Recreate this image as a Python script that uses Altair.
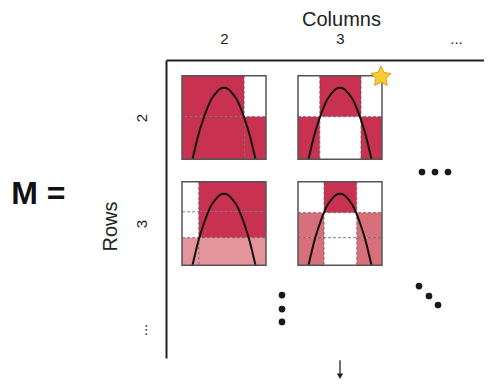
import math
import altair as alt
import pandas as pd

# ---------------- data ----------------
# matrix positions (column / row index); 4 stands for the "..." position
col_ticks = [2, 3, 4]
row_ticks = [2, 3, 4]
tick_text = ["2", "3", "..."]

# panels of the matrix: row, column, split positions (fractions), cell colours
panel_rows = [2, 2, 3, 3]
panel_cols = [2, 3, 2, 3]
panel_vsplits = [[0.74], [0.26, 0.75], [0.20], [0.31, 0.70]]
panel_hsplits = [[0.49], [0.49], [0.36, 0.67], [0.37, 0.67]]
panel_cells = [
    [["R", "W"], ["R", "R"]],
    [["W", "R", "W"], ["R", "W", "R"]],
    [["W", "R"], ["W", "R"], ["L", "L"]],
    [["W", "R", "W"], ["M", "W", "M"], ["M", "W", "M"]],
]
cell_colours = {"R": "#c8314f", "L": "#e4959c", "M": "#d8707b", "W": "#ffffff"}

# curve drawn in each panel (fraction across, fraction down from top)
curve_fx = [0.125, 0.20, 0.25, 0.30, 0.35, 0.40, 0.45, 0.50, 0.55, 0.60, 0.65, 0.70, 0.75, 0.80, 0.875]
curve_fy = [1.00, 0.69, 0.53, 0.39, 0.28, 0.21, 0.16, 0.145, 0.16, 0.21, 0.28, 0.39, 0.53, 0.69, 1.00]

# ellipsis dots (column, row positions)
dots_col = [2.50, 2.50, 2.50, 3.707, 3.819, 3.931, 3.681, 3.767, 3.845]
dots_row = [3.675, 3.807, 3.929, 2.514, 2.514, 2.514, 3.590, 3.684, 3.769]

# star marker on panel (2,3), arrow under column 3
star_col, star_row = [3.353], [1.606]
arrow_col = [3.0]
arrow_row_start, arrow_row_end = [4.29], [4.44]

# "M =" label
label_text = ["M ="]
label_col, label_row = [0.40], [2.72]

# ---------------- layout ----------------
HW = 0.362   # panel half width (column units)
HH = 0.394   # panel half height (row units)
X_DOMAIN = [1.5, 4.2414]
Y_DOMAIN = [1.4575, 4.2689]
FONT = "Liberation Sans"

rects, rules, borders, curves = [], [], [], []
for k in range(len(panel_rows)):
    r, c = panel_rows[k], panel_cols[k]
    xe = [0.0] + panel_vsplits[k] + [1.0]
    ye = [0.0] + panel_hsplits[k] + [1.0]
    x0, y0 = c - HW, r - HH
    for i in range(len(ye) - 1):
        for j in range(len(xe) - 1):
            rects.append(dict(x=x0 + xe[j] * 2 * HW, x2=x0 + xe[j + 1] * 2 * HW,
                              y=y0 + ye[i] * 2 * HH, y2=y0 + ye[i + 1] * 2 * HH,
                              fill=cell_colours[panel_cells[k][i][j]]))
    for v in panel_vsplits[k]:
        rules.append(dict(x=x0 + v * 2 * HW, x2=x0 + v * 2 * HW, y=r - HH, y2=r + HH))
    for h in panel_hsplits[k]:
        rules.append(dict(x=c - HW, x2=c + HW, y=y0 + h * 2 * HH, y2=y0 + h * 2 * HH))
    borders.append(dict(x=c - HW, x2=c + HW, y=r - HH, y2=r + HH))
    for fx, fy in zip(curve_fx, curve_fy):
        curves.append(dict(panel=k, order=fx, x=x0 + fx * 2 * HW, y=y0 + fy * 2 * HH))

rect_df = pd.DataFrame(rects)
rule_df = pd.DataFrame(rules)
border_df = pd.DataFrame(borders)
curve_df = pd.DataFrame(curves)
dots_df = pd.DataFrame(dict(x=dots_col, y=dots_row))
star_df = pd.DataFrame(dict(x=star_col, y=star_row))
arrow_df = pd.DataFrame(dict(x=arrow_col, x2=arrow_col, y=arrow_row_start, y2=arrow_row_end))
head_df = pd.DataFrame(dict(x=arrow_col, y=arrow_row_end))
label_df = pd.DataFrame(dict(x=label_col, y=label_row, t=label_text))

expr_parts = " : ".join(
    [f"datum.value == {v} ? '{t}'" for v, t in zip(col_ticks, tick_text)] + ["''"])

XS = alt.Scale(domain=X_DOMAIN, nice=False, zero=False)
YS = alt.Scale(domain=Y_DOMAIN, nice=False, zero=False, reverse=True)
XA = alt.Axis(orient="top", values=col_ticks, labelExpr=expr_parts, title="Columns",
              ticks=False, tickSize=0, grid=False, domainColor="#222222", domainWidth=2,
              labelFont=FONT, labelFontSize=15, labelColor="#222222", labelPadding=14,
              labelAngle=0, labelAlign="center",
              titleFont=FONT, titleFontSize=20, titleFontWeight="normal", titleColor="#222222",
              titlePadding=2, titleX=175)
YA = alt.Axis(orient="left", values=row_ticks, labelExpr=expr_parts, title="Rows",
              ticks=False, tickSize=0, grid=False, domainColor="#222222", domainWidth=2,
              labelFont=FONT, labelFontSize=15, labelColor="#222222", labelPadding=17,
              labelAngle=-90, labelAlign="center", labelBaseline="bottom",
              titleFont=FONT, titleFontSize=20, titleFontWeight="normal", titleColor="#222222",
              titlePadding=14, titleY=166)


def X(f="x"):
    return alt.X(f"{f}:Q", scale=XS, axis=XA)


def Y(f="y"):
    return alt.Y(f"{f}:Q", scale=YS, axis=YA)


cells = alt.Chart(rect_df).mark_rect(strokeWidth=0).encode(
    x=X(), x2="x2", y=Y(), y2="y2", color=alt.Color("fill:N", scale=None))
splits = alt.Chart(rule_df).mark_rule(color="#555555", strokeWidth=1, strokeDash=[3, 2],
                                      opacity=0.75).encode(x=X(), x2="x2", y=Y(), y2="y2")
curve = alt.Chart(curve_df).mark_line(color="#111111", strokeWidth=2, interpolate="monotone").encode(
    x=X(), y=Y(), detail="panel:N", order="order:Q")
frames = alt.Chart(border_df).mark_rect(fillOpacity=0, stroke="#555555", strokeWidth=1.5).encode(
    x=X(), x2="x2", y=Y(), y2="y2")

pts = []
for i in range(10):
    a = math.radians(-90 + 36 * i)
    rr = 1.0 if i % 2 == 0 else 0.5
    pts.append(f"{rr * math.cos(a):.3f},{rr * math.sin(a) + 0.1:.3f}")
STAR = "M" + "L".join(pts) + "Z"

star = alt.Chart(star_df).mark_point(shape=STAR, size=450, filled=True, fill="#f7cc32",
                                     stroke="#e39b25", strokeWidth=1, opacity=1).encode(x=X(), y=Y())
dots = alt.Chart(dots_df).mark_circle(size=45, color="#1a1a1a", opacity=1).encode(x=X(), y=Y())
arrow = alt.Chart(arrow_df).mark_rule(color="#222222", strokeWidth=1.3).encode(
    x=X(), x2="x2", y=Y(), y2="y2")
head = alt.Chart(head_df).mark_point(shape="triangle-down", size=40, filled=True,
                                     color="#222222", opacity=1).encode(x=X(), y=Y())
label = alt.Chart(label_df).mark_text(font=FONT, fontSize=32, fontWeight="bold",
                                      color="#111111").encode(x=X(), y=Y(), text="t:N")

chart = alt.layer(cells, splits, curve, frames, star, dots, arrow, head, label).properties(
    width=318, height=298,
    padding={"left": 158, "top": 52, "right": 0, "bottom": 23},
    autosize=alt.AutoSizeParams(type="none"),
).configure_view(stroke=None)

chart.save("out.html", embed_options={"renderer": "svg", "actions": False})
